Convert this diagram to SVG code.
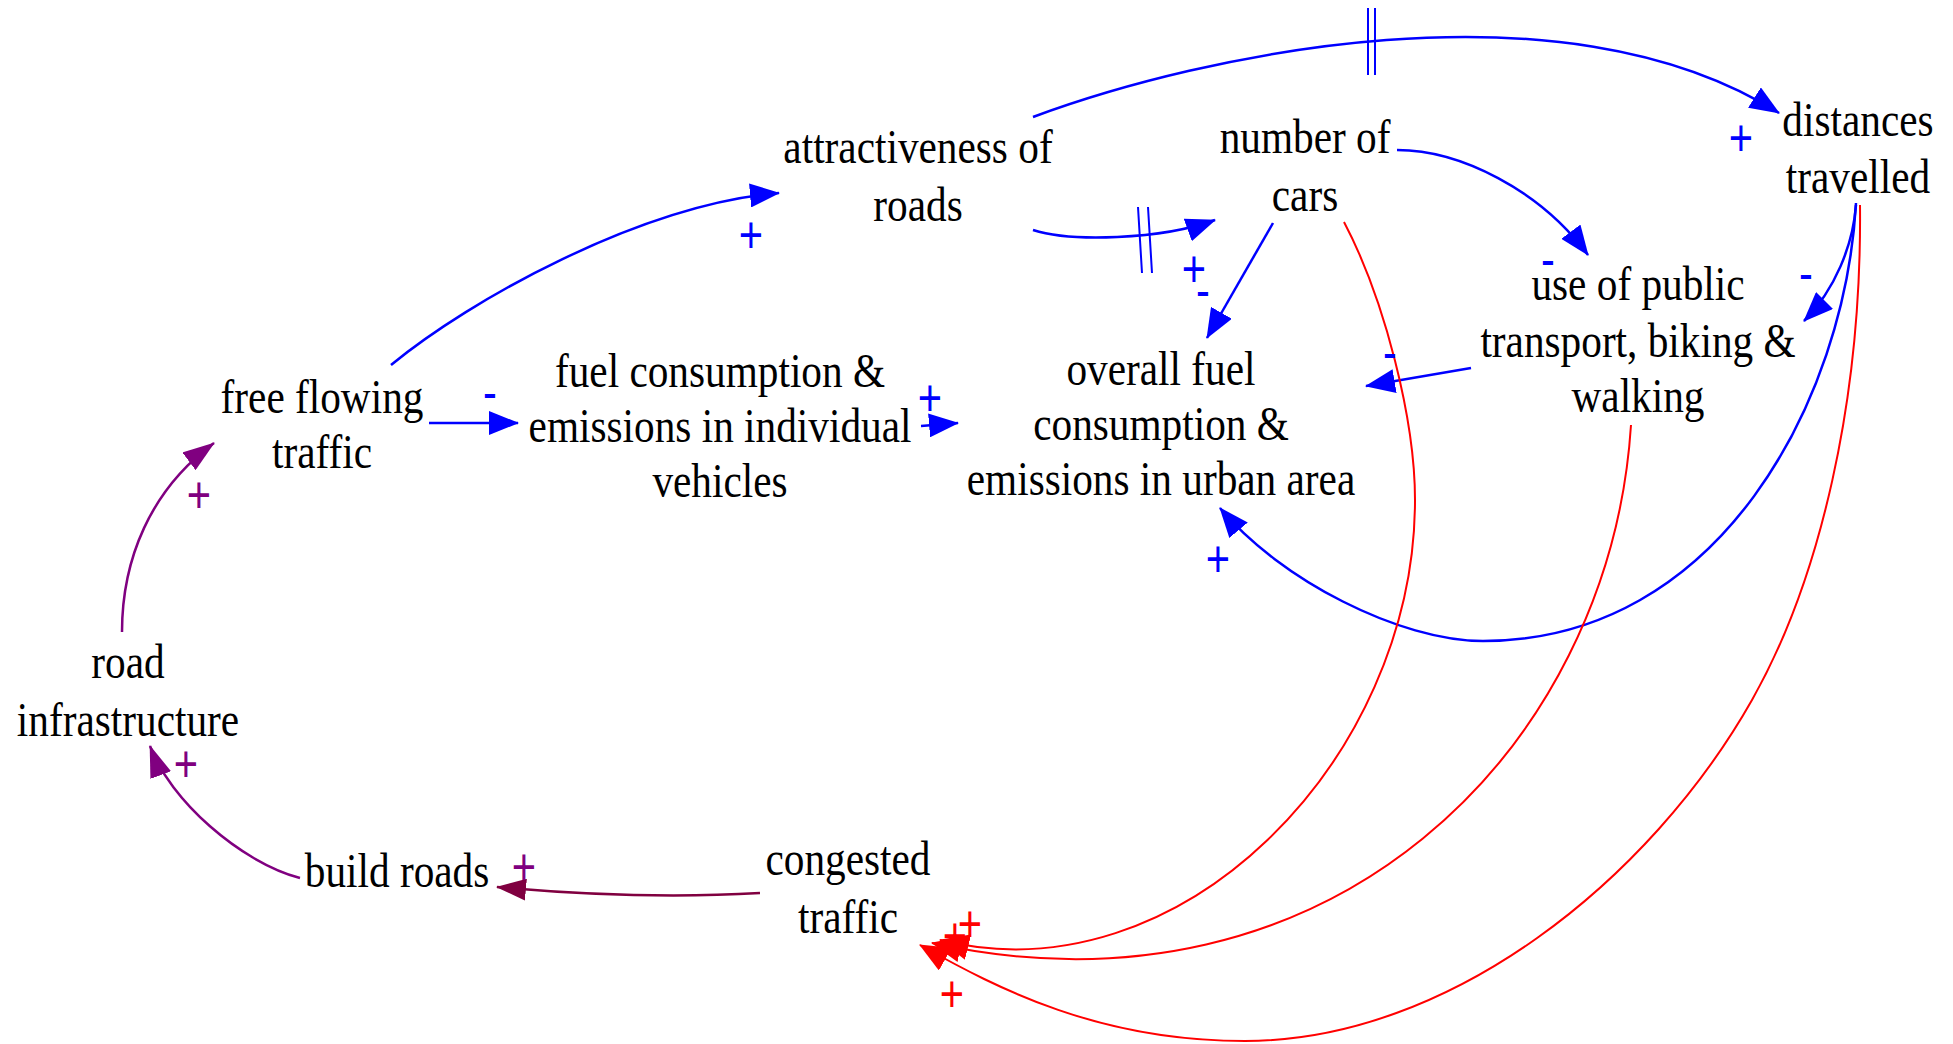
<svg xmlns="http://www.w3.org/2000/svg" width="1953" height="1044" viewBox="0 0 1953 1044">
<style>
  .n { font-family: "Liberation Serif", "Times New Roman", serif; font-size: 48px; fill: #000; text-anchor: middle; }
  .pl { font-family: "Liberation Sans", Arial, sans-serif; font-size: 52px; text-anchor: middle; }
  .lb { fill: #0000FF; }
  .lr { fill: #FF0000; }
  .lp { fill: #800080; }
  .b { stroke: #0000FF; fill: none; stroke-width: 2.5; }
  .r { stroke: #FF0000; fill: none; stroke-width: 2; }
  .pu { stroke: #800080; fill: none; stroke-width: 2.5; }
  .m { stroke: #800040; fill: none; stroke-width: 2.5; }
  .bar { stroke: #0000FF; fill: none; stroke-width: 2; }
</style>
<defs>
  <marker id="ab" markerUnits="userSpaceOnUse" markerWidth="30" markerHeight="24" refX="29" refY="12" orient="auto"><path d="M0,0 L30,12 L0,24 z" fill="#0000FF"/></marker>
  <marker id="ar" markerUnits="userSpaceOnUse" markerWidth="30" markerHeight="26" refX="29" refY="13" orient="auto"><path d="M0,0 L30,13 L0,26 z" fill="#FF0000"/></marker>
  <marker id="ap" markerUnits="userSpaceOnUse" markerWidth="32" markerHeight="22" refX="31" refY="11" orient="auto"><path d="M0,0 L32,11 L0,22 z" fill="#800080"/></marker>
  <marker id="am" markerUnits="userSpaceOnUse" markerWidth="30" markerHeight="22" refX="29" refY="11" orient="auto"><path d="M0,0 L30,11 L0,22 z" fill="#800040"/></marker>
</defs>

<g id="connectors">
  <path class="b" d="M391,365 C470,300 640,205 779,193" marker-end="url(#ab)"/>
  <path class="b" d="M429,423 L518,423" marker-end="url(#ab)"/>
  <path class="b" d="M921,426 L958,423" marker-end="url(#ab)"/>
  <path class="b" d="M1033,230 C1070,242 1160,240 1215,220" marker-end="url(#ab)"/>
  <path class="bar" d="M1138,207 L1142,273 M1148,207 L1152,273"/>
  <path class="b" d="M1033,117 C1200,55 1560,-25 1779,113" marker-end="url(#ab)"/>
  <path class="bar" d="M1368,8 L1368,75 M1375,8 L1375,75"/>
  <path class="b" d="M1273,223 L1207,338" stroke-width="2" marker-end="url(#ab)"/>
  <path class="b" d="M1397,150 C1460,150 1540,190 1588,255" stroke-width="2" marker-end="url(#ab)"/>
  <path class="b" d="M1471,368 L1366,386" marker-end="url(#ab)"/>
  <path class="b" d="M1856,205 C1853,245 1835,290 1804,321" stroke-width="2" marker-end="url(#ab)"/>
  <path class="b" d="M1856,203 C1845,400 1720,641 1483,641 C1400,641 1280,580 1220,508" marker-end="url(#ab)"/>
  <path class="r" d="M1344,222 C1385,300 1415,420 1415,500 C1415,760 1180,1000 940,940" stroke-width="1.8" marker-end="url(#ar)"/>
  <path class="r" d="M1631,425 C1610,750 1330,1030 932,943" stroke-width="1.8" marker-end="url(#ar)"/>
  <path class="r" d="M1860,205 C1862,400 1820,580 1752,700 C1650,880 1450,1041 1245,1041 C1100,1041 1000,990 920,945" marker-end="url(#ar)"/>
  <path class="m" d="M760,893 Q640,900 497,887" marker-end="url(#am)"/>
  <path class="pu" d="M300,878 C240,862 170,800 150,746" marker-end="url(#ap)"/>
  <path class="pu" d="M122,632 C122,560 150,490 214,443" marker-end="url(#ap)"/>

  <g id="polarities">
    <g transform="translate(751,0) scale(0.8,1)"><text class="pl lb" x="0" y="253">+</text></g>
    <g transform="translate(490,0) scale(0.8,1)"><text class="pl lb" x="0" y="410">-</text></g>
    <g transform="translate(930,0) scale(0.8,1)"><text class="pl lb" x="0" y="416">+</text></g>
    <g transform="translate(1194,0) scale(0.8,1)"><text class="pl lb" x="0" y="287">+</text></g>
    <g transform="translate(1203,0) scale(0.8,1)"><text class="pl lb" x="0" y="308">-</text></g>
    <g transform="translate(1741,0) scale(0.8,1)"><text class="pl lb" x="0" y="156">+</text></g>
    <g transform="translate(1548,0) scale(0.8,1)"><text class="pl lb" x="0" y="277">-</text></g>
    <g transform="translate(1390,0) scale(0.8,1)"><text class="pl lb" x="0" y="370">-</text></g>
    <g transform="translate(1806,0) scale(0.8,1)"><text class="pl lb" x="0" y="291">-</text></g>
    <g transform="translate(1218,0) scale(0.8,1)"><text class="pl lb" x="0" y="577">+</text></g>
    <g transform="translate(970,0) scale(0.8,1)"><text class="pl lr" x="0" y="942">+</text></g>
    <g transform="translate(955,0) scale(0.8,1)"><text class="pl lr" x="0" y="954">+</text></g>
    <g transform="translate(952,0) scale(0.8,1)"><text class="pl lr" x="0" y="1012">+</text></g>
    <g transform="translate(199,0) scale(0.8,1)"><text class="pl lp" x="0" y="513">+</text></g>
    <g transform="translate(186,0) scale(0.8,1)"><text class="pl lp" x="0" y="782">+</text></g>
    <g transform="translate(524,0) scale(0.8,1)"><text class="pl lp" x="0" y="885">+</text></g>
  </g>
</g>

<g id="node-attractiveness" transform="translate(918,0) scale(0.86,1)">
  <text class="n"><tspan x="0" y="163">attractiveness of</tspan><tspan x="0" y="221">roads</tspan></text>
</g>
<g id="node-number-of-cars" transform="translate(1305,0) scale(0.86,1)">
  <text class="n"><tspan x="0" y="153">number of</tspan><tspan x="0" y="211">cars</tspan></text>
</g>
<g id="node-distances" transform="translate(1858,0) scale(0.86,1)">
  <text class="n"><tspan x="0" y="136">distances</tspan><tspan x="0" y="193">travelled</tspan></text>
</g>
<g id="node-free-flowing" transform="translate(322,0) scale(0.86,1)">
  <text class="n"><tspan x="0" y="413">free flowing</tspan><tspan x="0" y="468">traffic</tspan></text>
</g>
<g id="node-fuel-individual" transform="translate(720,0) scale(0.86,1)">
  <text class="n"><tspan x="0" y="387">fuel consumption &amp;</tspan><tspan x="0" y="442">emissions in individual</tspan><tspan x="0" y="497">vehicles</tspan></text>
</g>
<g id="node-overall-fuel" transform="translate(1161,0) scale(0.86,1)">
  <text class="n"><tspan x="0" y="385">overall fuel</tspan><tspan x="0" y="440">consumption &amp;</tspan><tspan x="0" y="495">emissions in urban area</tspan></text>
</g>
<g id="node-public-transport" transform="translate(1638,0) scale(0.86,1)">
  <text class="n"><tspan x="0" y="300">use of public</tspan><tspan x="0" y="357">transport, biking &amp;</tspan><tspan x="0" y="412">walking</tspan></text>
</g>
<g id="node-road-infrastructure" transform="translate(128,0) scale(0.86,1)">
  <text class="n"><tspan x="0" y="678">road</tspan><tspan x="0" y="736">infrastructure</tspan></text>
</g>
<g id="node-build-roads" transform="translate(397,0) scale(0.86,1)">
  <text class="n"><tspan x="0" y="887">build roads</tspan></text>
</g>
<g id="node-congested-traffic" transform="translate(848,0) scale(0.86,1)">
  <text class="n"><tspan x="0" y="875">congested</tspan><tspan x="0" y="933">traffic</tspan></text>
</g>
</svg>
